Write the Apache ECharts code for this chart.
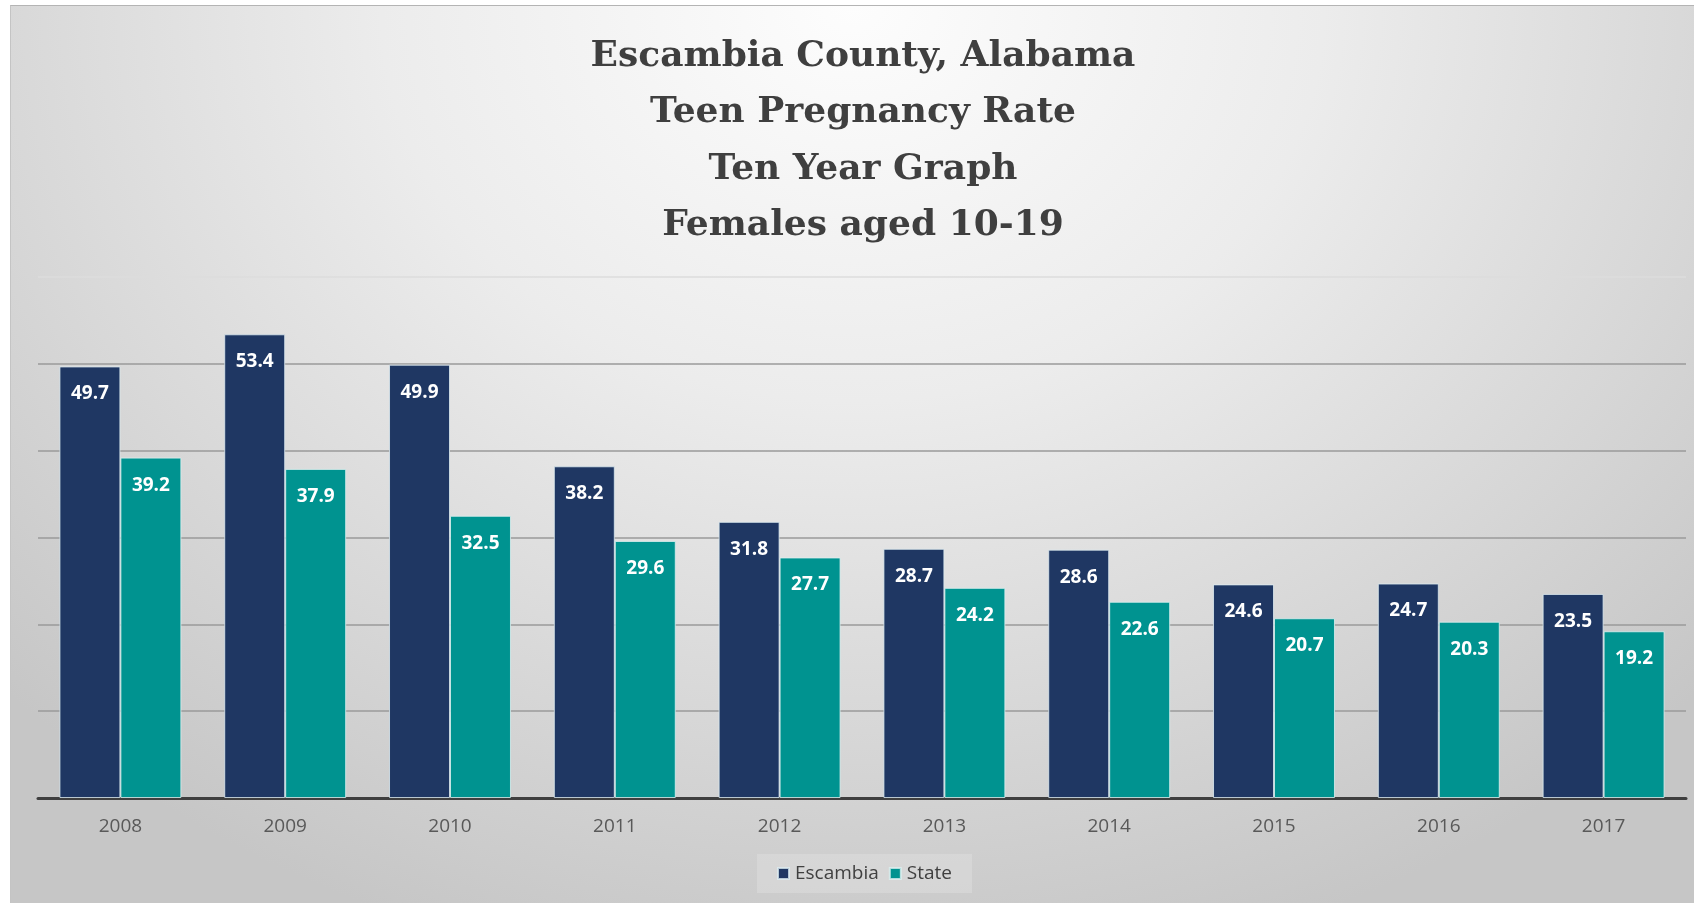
<!DOCTYPE html>
<html>
<head>
<meta charset="utf-8">
<script src="https://cdn.jsdelivr.net/npm/echarts@6/dist/echarts.min.js"></script>
<style>
html,body{margin:0;padding:0;background:#ffffff;width:1694px;height:903px;overflow:hidden;}
#chart{position:absolute;left:10px;top:5px;width:1684px;height:898px;
 border-top:1px solid #b4b4b4;border-left:1px solid #c4c4c4;box-sizing:border-box;
 background:radial-gradient(ellipse 70% 110% at 50% 0%, #fdfdfd 0%, #ececec 40%, #d6d6d6 75%, #c6c6c6 100%);}
</style>
</head>
<body>
<div id="chart"></div>
<script>
const categories = ['2008','2009','2010','2011','2012','2013','2014','2015','2016','2017'];
const escambia = [49.7, 53.4, 49.9, 38.2, 31.8, 28.7, 28.6, 24.6, 24.7, 23.5];
const state = [39.2, 37.9, 32.5, 29.6, 27.7, 24.2, 22.6, 20.7, 20.3, 19.2];
const titleLines = ['Escambia County, Alabama', 'Teen Pregnancy Rate', 'Ten Year Graph', 'Females aged 10-19'];
const seriesNames = ['Escambia', 'State'];

const chart = echarts.init(document.getElementById('chart'), null, {renderer: 'canvas'});
const labelStyle = {
  show: true, position: 'insideTop', distance: 18,
  color: '#ffffff', fontFamily: 'Open Sans', fontWeight: 'bold', fontSize: 19
};
chart.setOption({
  backgroundColor: 'transparent',
  animation: false,
  title: {
    text: titleLines.join('\n'),
    left: 847,
    top: 17,
    textAlign: 'center',
    padding: 5,
    textStyle: {
      fontFamily: 'DejaVu Serif',
      fontWeight: 'bold', fontSize: 36, color: '#3f3f3f', lineHeight: 56.5
    }
  },
  legend: {
    data: seriesNames,
    left: 746,
    bottom: 10,
    padding: [10, 20, 10, 20],
    itemWidth: 11, itemHeight: 11, itemGap: 10,
    icon: 'rect',
    backgroundColor: 'rgba(255,255,255,0.18)',
    textStyle: {fontFamily: 'Open Sans', fontSize: 19, color: '#404040', padding: [0,0,0,1]}
  },
  grid: {left: 27, right: 8, top: 271, bottom: 105, containLabel: false},
  xAxis: {
    type: 'category', data: categories,
    axisLine: {show: true, lineStyle: {color: '#3f3f3f', width: 3}},
    axisTick: {show: false},
    axisLabel: {color: '#595959', fontFamily: 'Open Sans', fontSize: 19, margin: 19}
  },
  yAxis: {
    type: 'value', min: 0, max: 60, interval: 10,
    axisLabel: {show: false}, axisLine: {show: false}, axisTick: {show: false},
    splitLine: {show: true, lineStyle: {color: ['#9a9a9a','#9a9a9a','#9a9a9a','#9a9a9a','#9a9a9a','#9a9a9a','#dcdcdc'], width: 1.5}}
  },
  series: [
    {name: seriesNames[0], type: 'bar', data: escambia, barGap: '0%', barCategoryGap: '26%',
     itemStyle: {color: '#1f3763', borderColor: 'rgba(220,235,240,0.8)', borderWidth: 1},
     label: labelStyle},
    {name: seriesNames[1], type: 'bar', data: state,
     itemStyle: {color: '#009390', borderColor: 'rgba(220,240,240,0.8)', borderWidth: 1},
     label: labelStyle}
  ]
});
</script>
</body>
</html>
